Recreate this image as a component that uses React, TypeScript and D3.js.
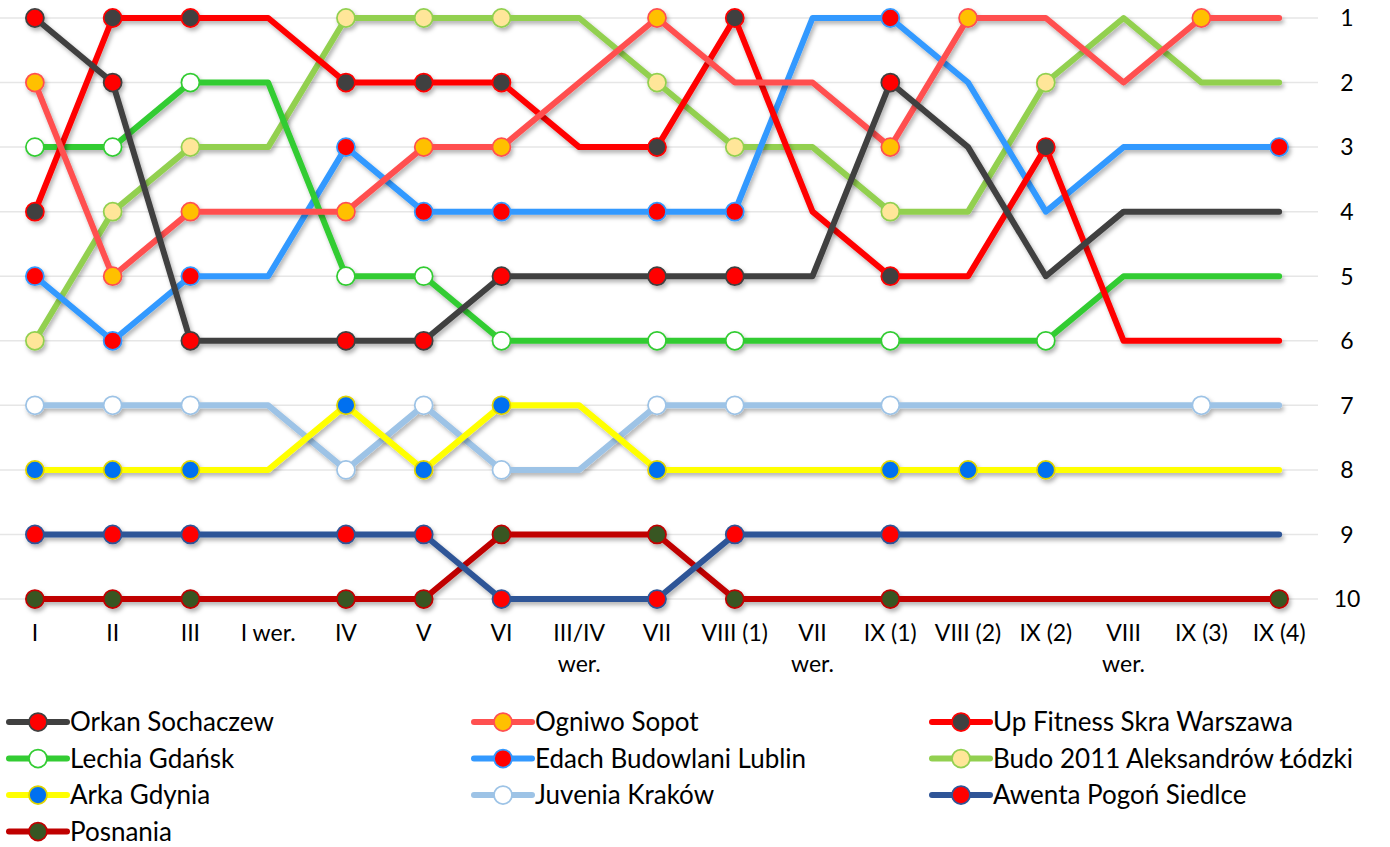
import React, { useEffect, useRef } from 'react'
import * as d3 from 'd3'

// rounds (x axis) and places (y axis)
const rounds = ['I', 'II', 'III', 'I wer.', 'IV', 'V', 'VI', 'III/IV wer.', 'VII', 'VIII (1)', 'VII wer.', 'IX (1)', 'VIII (2)', 'IX (2)', 'VIII wer.', 'IX (3)', 'IX (4)']
const places = [1, 2, 3, 4, 5, 6, 7, 8, 9, 10]

// place after each round, and whether the team played in that round (marker shown)
const orkan = [1, 2, 6, 6, 6, 6, 5, 5, 5, 5, 5, 2, 3, 5, 4, 4, 4]
const orkanPlayed = [1, 1, 1, 0, 1, 1, 1, 0, 1, 1, 0, 1, 0, 0, 0, 0, 0]
const ogniwo = [2, 5, 4, 4, 4, 3, 3, 2, 1, 2, 2, 3, 1, 1, 2, 1, 1]
const ogniwoPlayed = [1, 1, 1, 0, 1, 1, 1, 0, 1, 0, 0, 1, 1, 0, 0, 1, 0]
const skra = [4, 1, 1, 1, 2, 2, 2, 3, 3, 1, 4, 5, 5, 3, 6, 6, 6]
const skraPlayed = [1, 1, 1, 0, 1, 1, 1, 0, 1, 1, 0, 1, 0, 1, 0, 0, 0]
const lechia = [3, 3, 2, 2, 5, 5, 6, 6, 6, 6, 6, 6, 6, 6, 5, 5, 5]
const lechiaPlayed = [1, 1, 1, 0, 1, 1, 1, 0, 1, 1, 0, 1, 0, 1, 0, 0, 0]
const edach = [5, 6, 5, 5, 3, 4, 4, 4, 4, 4, 1, 1, 2, 4, 3, 3, 3]
const edachPlayed = [1, 1, 1, 0, 1, 1, 1, 0, 1, 1, 0, 1, 0, 0, 0, 0, 1]
const budo = [6, 4, 3, 3, 1, 1, 1, 1, 2, 3, 3, 4, 4, 2, 1, 2, 2]
const budoPlayed = [1, 1, 1, 0, 1, 1, 1, 0, 1, 1, 0, 1, 0, 1, 0, 0, 0]
const arka = [8, 8, 8, 8, 7, 8, 7, 7, 8, 8, 8, 8, 8, 8, 8, 8, 8]
const arkaPlayed = [1, 1, 1, 0, 1, 1, 1, 0, 1, 0, 0, 1, 1, 1, 0, 0, 0]
const juvenia = [7, 7, 7, 7, 8, 7, 8, 8, 7, 7, 7, 7, 7, 7, 7, 7, 7]
const juveniaPlayed = [1, 1, 1, 0, 1, 1, 1, 0, 1, 1, 0, 1, 0, 0, 0, 1, 0]
const awenta = [9, 9, 9, 9, 9, 9, 10, 10, 10, 9, 9, 9, 9, 9, 9, 9, 9]
const awentaPlayed = [1, 1, 1, 0, 1, 1, 1, 0, 1, 1, 0, 1, 0, 0, 0, 0, 0]
const posnania = [10, 10, 10, 10, 10, 10, 9, 9, 9, 10, 10, 10, 10, 10, 10, 10, 10]
const posnaniaPlayed = [1, 1, 1, 0, 1, 1, 1, 0, 1, 1, 0, 1, 0, 0, 0, 0, 1]

const teams = [
  { name: 'Orkan Sochaczew', values: orkan, played: orkanPlayed, line: '#404040', fill: '#FF0000', border: '#404040' },
  { name: 'Ogniwo Sopot', values: ogniwo, played: ogniwoPlayed, line: '#FF5050', fill: '#FFC000', border: '#FF5050' },
  { name: 'Up Fitness Skra Warszawa', values: skra, played: skraPlayed, line: '#FF0000', fill: '#404040', border: '#FF0000' },
  { name: 'Lechia Gdańsk', values: lechia, played: lechiaPlayed, line: '#33CC33', fill: '#FFFFFF', border: '#33CC33' },
  { name: 'Edach Budowlani Lublin', values: edach, played: edachPlayed, line: '#3399FF', fill: '#FF0000', border: '#3399FF' },
  { name: 'Budo 2011 Aleksandrów Łódzki', values: budo, played: budoPlayed, line: '#92D050', fill: '#FFE699', border: '#92D050' },
  { name: 'Arka Gdynia', values: arka, played: arkaPlayed, line: '#FFFF00', fill: '#0070F0', border: '#E0D400' },
  { name: 'Juvenia Kraków', values: juvenia, played: juveniaPlayed, line: '#9DC3E6', fill: '#FFFFFF', border: '#9DC3E6' },
  { name: 'Awenta Pogoń Siedlce', values: awenta, played: awentaPlayed, line: '#2F5597', fill: '#FF0000', border: '#2F5597' },
  { name: 'Posnania', values: posnania, played: posnaniaPlayed, line: '#C00000', fill: '#375623', border: '#C00000' },
]

const FONT = 'Lato, "Open Sans", sans-serif'

export default function App() {
  const ref = useRef<SVGSVGElement>(null)

  useEffect(() => {
    const width = 1390
    const height = 847
    const svg = d3.select(ref.current)
    svg.selectAll('*').remove()

    const x = d3.scaleBand().domain(rounds).range([-4, 1318])
    const cx = (r: string) => (x(r) as number) + x.bandwidth() / 2
    const y = d3.scaleLinear().domain([1, 10]).range([18, 599])

    const defs = svg.append('defs')
    defs.append('filter')
      .attr('id', 'shadow')
      .attr('x', '-10%').attr('y', '-10%').attr('width', '120%').attr('height', '120%')
      .append('feDropShadow')
      .attr('dx', 2).attr('dy', 3).attr('stdDeviation', 2)
      .attr('flood-color', '#000').attr('flood-opacity', 0.3)

    // gridlines
    svg.append('g')
      .selectAll('line')
      .data(places)
      .enter()
      .append('line')
      .attr('x1', 0).attr('x2', 1318)
      .attr('y1', d => y(d)).attr('y2', d => y(d))
      .attr('stroke', '#E6E6E6').attr('stroke-width', 1.5)

    // place labels on the right
    svg.append('g')
      .selectAll('text')
      .data(places)
      .enter()
      .append('text')
      .attr('x', 1347).attr('y', d => y(d))
      .attr('dy', '0.36em')
      .attr('text-anchor', 'middle')
      .style('font-family', FONT).style('font-size', '23px').attr('fill', '#000')
      .text(d => d)

    // round labels
    const xl = svg.append('g')
      .selectAll('text')
      .data(rounds)
      .enter()
      .append('text')
      .attr('x', d => cx(d)).attr('y', 641)
      .attr('text-anchor', 'middle')
      .style('font-family', FONT).style('font-size', '23px').attr('fill', '#000')
    xl.each(function (d) {
      const t = d3.select(this)
      const wrap = d.length > 6 && d.endsWith(' wer.')
      const parts = wrap ? [d.slice(0, -5), 'wer.'] : [d]
      parts.forEach((p, i) => {
        t.append('tspan').attr('x', cx(d)).attr('dy', i === 0 ? 0 : 31).text(p)
      })
    })

    const line = d3.line<number>()
      .x((d, i) => cx(rounds[i]))
      .y(d => y(d))

    // earlier teams drawn on top
    const series = svg.append('g')
      .selectAll('g')
      .data(teams.slice().reverse())
      .enter()
      .append('g')
      .attr('filter', 'url(#shadow)')

    series.append('path')
      .attr('d', d => line(d.values))
      .attr('fill', 'none')
      .attr('stroke', d => d.line)
      .attr('stroke-width', 6)
      .attr('stroke-linecap', 'round')
      .attr('stroke-linejoin', 'round')

    series.each(function (t) {
      d3.select(this)
        .selectAll('circle')
        .data(t.values.map((v, i) => ({ v, i })).filter(p => t.played[p.i]))
        .enter()
        .append('circle')
        .attr('cx', p => cx(rounds[p.i]))
        .attr('cy', p => y(p.v))
        .attr('r', 9)
        .attr('fill', t.fill)
        .attr('stroke', t.border)
        .attr('stroke-width', 1.75)
    })

    // legend, three columns
    const legend = svg.append('g')
      .selectAll('g')
      .data(teams)
      .enter()
      .append('g')
      .attr('transform', (d, i) => `translate(${[9, 474, 932][i % 3]},${722 + Math.floor(i / 3) * 36.5})`)

    legend.append('line')
      .attr('x1', 0).attr('x2', 58).attr('y1', 0).attr('y2', 0)
      .attr('stroke', d => d.line).attr('stroke-width', 6).attr('stroke-linecap', 'round')
    legend.append('circle')
      .attr('cx', 29).attr('cy', 0).attr('r', 9)
      .attr('fill', d => d.fill).attr('stroke', d => d.border).attr('stroke-width', 1.75)
    legend.append('text')
      .attr('x', 61).attr('y', 0).attr('dy', '0.36em')
      .style('font-family', FONT).style('font-size', '26px').attr('fill', '#000')
      .text(d => d.name)

    svg.attr('width', width).attr('height', height)
  }, [])

  return (
    <svg ref={ref} width={1390} height={847} style={{ position: 'absolute', left: 0, top: 0, background: '#fff' }} />
  )
}
